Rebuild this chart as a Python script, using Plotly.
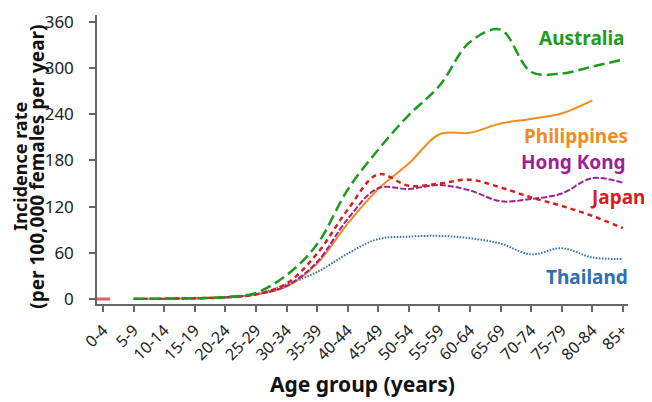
import plotly.graph_objects as go

categories = ["0-4", "5-9", "10-14", "15-19", "20-24", "25-29", "30-34", "35-39",
              "40-44", "45-49", "50-54", "55-59", "60-64", "65-69", "70-74",
              "75-79", "80-84", "85+"]

australia = [None, 0.2, 0.4, 1, 2.5, 8, 31, 71, 142, 194, 239, 277, 334, 350, 295, 293, 302, 311]
philippines = [None, 0.2, 0.4, 1, 2.5, 6, 16, 46, 98, 143, 176, 214, 216, 228, 234, 241, 258, None]
hong_kong = [None, 0.2, 0.4, 1, 2, 6, 17, 48, 104, 144, 143, 148, 141, 127, 130, 137, 157, 151]
japan = [0, None, 0.4, 1, 2, 6, 20, 59, 116, 162, 147, 150, 155, 145, 132, 121, 108, 92]
thailand = [None, 0.1, 0.3, 0.8, 2, 6, 19, 35, 59, 78, 81, 82, 79, 72, 58, 66, 54, 52]

y_ticks = [0, 60, 120, 180, 240, 300, 360]

C_AUS = "rgb(30,155,30)"
C_PHI = "rgb(240,140,35)"
C_HK = "rgb(160,30,150)"
C_JP = "rgb(215,30,30)"
C_TH = "rgb(45,110,180)"

FONT = "Noto Sans"

fig = go.Figure()
fig.add_trace(go.Scatter(x=categories, y=thailand, mode="lines",
                         line=dict(color=C_TH, width=2, dash="1.5px,1.5px", shape="spline")))
fig.add_trace(go.Scatter(x=categories, y=philippines, mode="lines",
                         line=dict(color=C_PHI, width=2, shape="spline")))
fig.add_trace(go.Scatter(x=categories, y=hong_kong, mode="lines",
                         line=dict(color=C_HK, width=2, dash="6px,2px", shape="spline")))
fig.add_trace(go.Scatter(x=categories, y=japan, mode="lines+markers",
                         marker=dict(symbol="line-ew", size=[10] + [0] * (len(categories) - 1),
                                     color=C_JP, line=dict(color=C_JP, width=3)),
                         line=dict(color=C_JP, width=2.5, dash="5px,4px", shape="spline")))
fig.add_trace(go.Scatter(x=categories, y=australia, mode="lines",
                         line=dict(color=C_AUS, width=2.5, dash="11px,5px", shape="spline")))

labels = [("Australia", C_AUS, 0.998, 0.922),
          ("Philippines", C_PHI, 1.004, 0.582),
          ("Hong Kong", C_HK, 1.0, 0.490),
          ("Japan", C_JP, 1.036, 0.371),
          ("Thailand", C_TH, 1.004, 0.092)]
for text, col, px, py in labels:
    fig.add_annotation(text="<b>%s</b>" % text, xref="paper", yref="paper", x=px, y=py,
                       xanchor="right", yanchor="middle", showarrow=False,
                       font=dict(family=FONT, size=19, color=col))

# axis titles
fig.add_annotation(text="<b>Incidence rate</b>", xref="paper", yref="paper",
                   x=-0.145, y=0.475, xanchor="center", yanchor="middle", textangle=-90,
                   showarrow=False, font=dict(family=FONT, size=18, color="#111"))
fig.add_annotation(text="<b>(per 100,000 females per year)</b>", xref="paper", yref="paper",
                   x=-0.113, y=0.475, xanchor="center", yanchor="middle", textangle=-90,
                   showarrow=False, font=dict(family=FONT, size=19, color="#111"))
fig.add_annotation(text="<b>Age group (years)</b>", xref="paper", yref="paper",
                   x=0.5, y=-0.276, xanchor="center", yanchor="middle",
                   showarrow=False, font=dict(family=FONT, size=21, color="#111"))

# page body has an 8px default margin, so the figure is drawn 8px smaller and shifted
fig.update_layout(
    width=644, height=394,
    margin=dict(l=89, r=24, t=2, b=98),
    plot_bgcolor="white", paper_bgcolor="white",
    showlegend=False,
    font=dict(family=FONT, color="#222"),
)
fig.update_xaxes(
    type="category", range=[-0.2, 17.17],
    showline=True, linecolor="#666", linewidth=1.5,
    ticks="outside", ticklen=6, tickcolor="#666", tickwidth=1.5,
    tickangle=-45, tickfont=dict(size=16, family=FONT, color="#222"),
    ticklabelstandoff=3,
    showgrid=False, zeroline=False,
)
fig.update_yaxes(
    range=[-6.5, 369], tickvals=y_ticks,
    showline=True, linecolor="#666", linewidth=1.5,
    ticks="outside", ticklen=6, tickcolor="#666", tickwidth=1.5,
    tickfont=dict(size=17, family=FONT, color="#222"),
    ticklabelstandoff=12, ticklabeloverflow="allow",
    showgrid=False, zeroline=False,
)

fig.write_html("out.html")
